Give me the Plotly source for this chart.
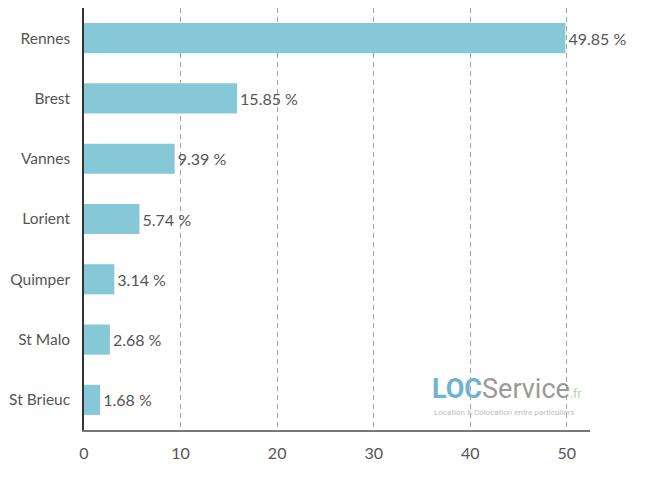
import plotly.graph_objects as go

cities = ["Rennes", "Brest", "Vannes", "Lorient", "Quimper", "St Malo", "St Brieuc"]
shares = [49.85, 15.85, 9.39, 5.74, 3.14, 2.68, 1.68]
labels = [f"{v:.2f} %" for v in shares]
tick_vals = [0, 10, 20, 30, 40, 50]

fig = go.Figure(go.Bar(
    x=shares, y=cities, orientation="h",
    marker=dict(color="#86c8d7", line=dict(width=0)),
    text=labels, textposition="outside", cliponaxis=False,
    textfont=dict(family="Lato", size=16, color="#555555"),
))

fig.update_layout(
    width=649, height=494,
    margin=dict(l=76, r=67, t=0, b=72),
    plot_bgcolor="white", paper_bgcolor="white",
    bargap=0.5, showlegend=False,
    font=dict(family="Lato", size=16, color="#555555"),
)
fig.update_xaxes(
    range=[0, 52.4], tickvals=tick_vals, showgrid=True,
    gridcolor="#a0a0a0", griddash="5px,4px", gridwidth=1,
    showline=True, linecolor="#777777", linewidth=1.5,
    ticks="", ticklabelstandoff=8, zeroline=False, automargin=False,
    tickfont=dict(family="Lato", size=16, color="#555555"),
)
fig.update_yaxes(
    categoryorder="array", categoryarray=cities[::-1],
    showline=True, linecolor="#333333", linewidth=1.5,
    ticks="", ticklabelstandoff=9, showgrid=False, automargin=False,
    tickfont=dict(family="Lato", size=15.5, color="#555555"),
)

fig.add_annotation(
    xref="paper", yref="paper", x=0.683, y=0.055, xanchor="left", yanchor="bottom",
    text="<b><span style='color:#6fb3d3'>LOC</span></b><span style='color:#9a9a9a'>Service</span><span style='color:#a8d8a0;font-size:12px'>.fr</span>",
    showarrow=False, font=dict(family="Roboto", size=27),
)
fig.add_annotation(
    xref="paper", yref="paper", x=0.688, y=0.025, xanchor="left", yanchor="bottom",
    text="Location & Colocation entre particuliers",
    showarrow=False, font=dict(family="Roboto", size=8, color="#c0c0c0"),
)

fig.write_html("out.html")
